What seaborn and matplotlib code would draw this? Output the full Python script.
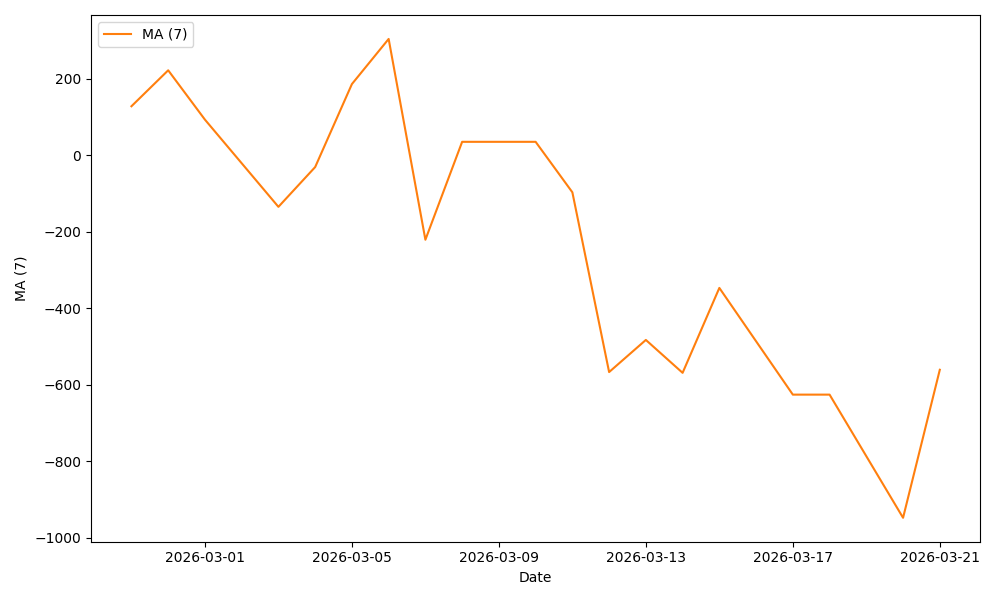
import matplotlib
matplotlib.use("Agg")
import matplotlib.pyplot as plt
import seaborn as sns
import pandas as pd

dates = ["2026-02-27", "2026-02-28", "2026-03-01", "2026-03-03", "2026-03-04",
         "2026-03-05", "2026-03-06", "2026-03-07", "2026-03-08", "2026-03-09",
         "2026-03-10", "2026-03-11", "2026-03-12", "2026-03-13", "2026-03-14",
         "2026-03-15", "2026-03-17", "2026-03-18", "2026-03-20", "2026-03-21"]
ma7 = [128, 222, 93, -135, -31,
       186, 304, -221, 35, 35,
       35, -97, -567, -483, -569,
       -347, -626, -626, -948, -561]

df = pd.DataFrame({"Date": pd.to_datetime(dates), "MA (7)": ma7})

fig, ax = plt.subplots(figsize=(10, 6), dpi=100)
sns.lineplot(data=df, x="Date", y="MA (7)", color="#ff7f0e", label="MA (7)", ax=ax)
ax.set_xticks(pd.to_datetime(["2026-03-01", "2026-03-05", "2026-03-09",
                              "2026-03-13", "2026-03-17", "2026-03-21"]))
ax.xaxis.set_major_formatter(matplotlib.dates.DateFormatter("%Y-%m-%d"))
ax.legend(loc="upper left")
fig.tight_layout()
fig.savefig("out.png")
